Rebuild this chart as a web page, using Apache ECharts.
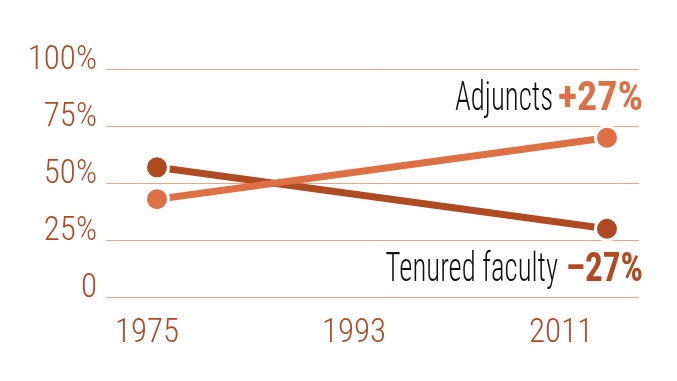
<!DOCTYPE html>
<html>
<head>
<meta charset="utf-8">
<script src="https://cdn.jsdelivr.net/npm/echarts@6/dist/echarts.min.js"></script>
<style>html,body{margin:0;padding:0;background:#fff}#c{width:677px;height:381px}</style>
</head>
<body>
<div id="c"></div>
<script>
var years = [1975, 2011];
var yearLabels = ['1975', '1993', '2011'];
var tenured = [57, 30];
var adjuncts = [43, 70];
var yTicks = [0, 25, 50, 75, 100];
var seriesNames = ['Tenured faculty', 'Adjuncts'];
var changes = ['\u201327%', '+27%'];

var FONT = '"Roboto Condensed", "DejaVu Sans Condensed", sans-serif';
var DARK = '#b04a22';
var LIGHT = '#de7046';
var GRID = '#f2a381';

var chart = echarts.init(document.getElementById('c'), null, {renderer: 'canvas'});
function pairs(vals) { return years.map(function (y, i) { return [y, vals[i]]; }); }

chart.setOption({
  animation: false,
  grid: [
    {left: 106, right: 38, top: 69.5, bottom: 84},
    {left: 147, right: 116, top: 290, height: 10}
  ],
  xAxis: [
    {gridIndex: 0, type: 'value', min: 1970.92, max: 2013.56, show: false, splitLine: {show: false}},
    {gridIndex: 1, type: 'category', data: yearLabels, boundaryGap: false,
     axisLine: {show: false}, axisTick: {show: false},
     axisLabel: {color: DARK, fontFamily: FONT, fontWeight: 300, fontSize: 33, margin: 17, interval: 0}}
  ],
  yAxis: [
    {gridIndex: 0, type: 'value', min: yTicks[0], max: yTicks[yTicks.length - 1], interval: 25,
     axisLine: {show: false}, axisTick: {show: false},
     splitLine: {show: true, lineStyle: {color: GRID, width: 1}},
     axisLabel: {color: DARK, fontFamily: FONT, fontWeight: 300, fontSize: 33, margin: 9,
       verticalAlign: 'bottom', lineHeight: 17,
       formatter: function (v) { return v === 0 ? '0' : v + '%'; }}},
    {gridIndex: 1, type: 'value', show: false}
  ],
  series: [
    {name: seriesNames[0], type: 'line', xAxisIndex: 0, yAxisIndex: 0, data: pairs(tenured),
     symbol: 'circle', symbolSize: 23, lineStyle: {color: DARK, width: 7},
     itemStyle: {color: DARK, borderColor: '#fff', borderWidth: 3}, z: 3},
    {name: seriesNames[1], type: 'line', xAxisIndex: 0, yAxisIndex: 0, data: pairs(adjuncts),
     symbol: 'circle', symbolSize: 23, lineStyle: {color: LIGHT, width: 7},
     itemStyle: {color: LIGHT, borderColor: '#fff', borderWidth: 3}, z: 4}
  ],
  graphic: [
    {type: 'text', x: 643, y: 100, style: {
      text: changes[1], align: 'right', verticalAlign: 'middle',
      fontFamily: FONT, fontSize: 40, fontWeight: 'bold', fill: LIGHT}},
    {type: 'text', x: 553, y: 100, scaleX: 0.72, style: {
      text: seriesNames[1], align: 'right', verticalAlign: 'middle',
      fontFamily: FONT, fontWeight: 300, fontSize: 40, fill: '#111'}},
    {type: 'text', x: 643, y: 271, scaleX: 0.88, style: {
      text: changes[0], align: 'right', verticalAlign: 'middle',
      fontFamily: FONT, fontSize: 40, fontWeight: 'bold', fill: DARK}},
    {type: 'text', x: 558, y: 271, scaleX: 0.72, style: {
      text: seriesNames[0], align: 'right', verticalAlign: 'middle',
      fontFamily: FONT, fontWeight: 300, fontSize: 40, fill: '#111'}}
  ]
});
</script>
</body>
</html>
